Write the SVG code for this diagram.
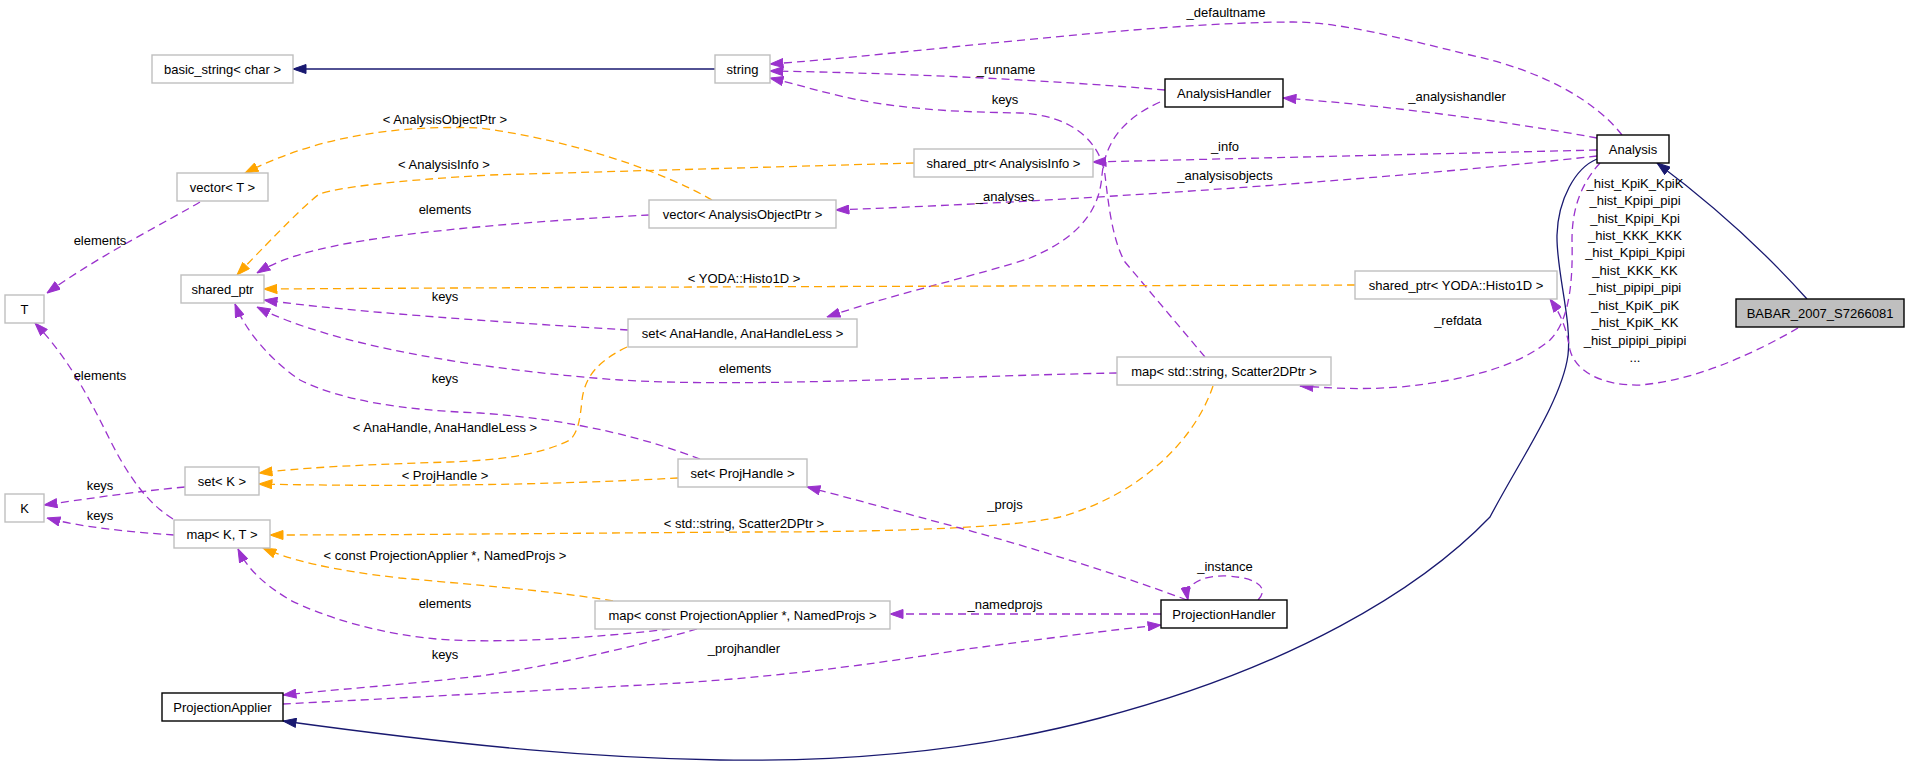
<svg xmlns="http://www.w3.org/2000/svg" width="1909" height="767" viewBox="0 0 1909 767">
<style>
text{font-family:"Liberation Sans",Arial,Helvetica,sans-serif;font-size:13px;fill:#000;text-anchor:middle}
.g rect{fill:#fff;stroke:#bfbfbf;stroke-width:1.4}
.b rect{fill:#fff;stroke:#000;stroke-width:1.4}
.c path{fill:none;stroke-width:1.3}
.p{stroke:#9a32cd;stroke-dasharray:8,5;marker-end:url(#mp)}
.o{stroke:#ffa500;stroke-dasharray:8,5;marker-end:url(#mo)}
.n{stroke:#191970;marker-end:url(#mn)}
</style>
<defs>
<marker id="mp" viewBox="0 0 14 10" refX="13.5" refY="5" markerWidth="14" markerHeight="10" markerUnits="userSpaceOnUse" orient="auto"><path d="M0.5,0.5 L13.5,5 L0.5,9.5 z" fill="#9a32cd" stroke="#9a32cd"/></marker>
<marker id="mo" viewBox="0 0 14 10" refX="13.5" refY="5" markerWidth="14" markerHeight="10" markerUnits="userSpaceOnUse" orient="auto"><path d="M0.5,0.5 L13.5,5 L0.5,9.5 z" fill="#ffa500" stroke="#ffa500"/></marker>
<marker id="mn" viewBox="0 0 14 10" refX="13.5" refY="5" markerWidth="14" markerHeight="10" markerUnits="userSpaceOnUse" orient="auto"><path d="M0.5,0.5 L13.5,5 L0.5,9.5 z" fill="#191970" stroke="#191970"/></marker>
</defs>
<rect x="0" y="0" width="1909" height="767" fill="#fff"/>
<g id="connectors" class="c">
<path class="n" d="M715,69 L293,69"/>
<path class="p" d="M1622,135 C1595,100 1540,70 1470,55 C1400,38 1340,22 1293,22 C1150,22 900,55 770,64"/>
<path class="p" d="M1165,90 C1050,80 900,73 770,71"/>
<path class="p" d="M1205,357 L1125,262 C1112,240 1108,200 1105,175 C1100,140 1070,115 1020,113 C980,112 930,112 870,102 C830,95 800,85 770,78"/>
<path class="p" d="M1597,138 C1500,120 1380,105 1283,98"/>
<path class="p" d="M1597,150 L1093,162"/>
<path class="p" d="M1597,156 C1400,178 1100,200 836,210"/>
<path class="o" d="M914,163 L490,175 C400,180 330,188 318,195 C305,205 280,230 237,275"/>
<path class="o" d="M712,200 C660,170 570,140 480,128 C400,125 320,135 245,173"/>
<path class="p" d="M649,215 C550,220 420,230 350,243 C300,252 275,262 257,273"/>
<path class="p" d="M200,202 C170,220 100,255 47,293"/>
<path class="p" d="M1160,102 C1120,120 1105,145 1102,175 C1100,205 1085,235 1030,258 C980,275 900,292 827,317"/>
<path class="o" d="M1355,285 C1000,286 600,287 264,289"/>
<path class="p" d="M628,330 C500,322 350,312 264,300"/>
<path class="p" d="M1117,373 C950,376 750,388 620,380 C480,370 330,345 257,307"/>
<path class="p" d="M700,459 C650,440 580,420 480,413 C400,410 340,400 300,380 C270,360 245,330 235,304"/>
<path class="o" d="M627,347 C600,360 585,375 582,400 C580,420 578,432 570,440 C540,455 500,460 450,462 C350,465 300,468 259,473"/>
<path class="o" d="M678,478 C550,485 400,487 259,484"/>
<path class="p" d="M185,487 C130,492 80,500 44,505"/>
<path class="p" d="M174,535 C130,532 80,527 47,518"/>
<path class="p" d="M173,519 C150,505 130,480 110,440 C90,400 70,360 35,323"/>
<path class="o" d="M1213,386 C1195,440 1140,495 1060,517 C1000,530 850,532 747,532 C600,533 400,535 270,535"/>
<path class="o" d="M613,601 C560,592 500,587 400,578 C330,570 290,560 263,548"/>
<path class="p" d="M670,629 C600,637 520,643 450,640 C380,636 320,615 290,600 C265,585 248,570 238,549"/>
<path class="p" d="M697,629 C660,640 560,665 480,676 C400,685 330,690 283,695"/>
<path class="p" d="M1161,614 L890,614"/>
<path class="p" d="M1187,600 C1120,575 1040,550 960,528 C900,512 850,498 807,487"/>
<path class="p" d="M1258,600 C1268,590 1262,578 1227,576 C1200,575 1185,585 1188,600"/>
<path class="p" d="M283,704 C400,698 550,690 680,683 C800,675 900,660 960,650 C1050,638 1110,630 1161,625"/>
<path class="n" d="M1597,159 C1575,168 1558,200 1557,235 C1556,270 1572,320 1568,355 C1562,400 1520,460 1490,517 C1420,590 1290,668 1100,718 C980,750 850,762 720,760 C600,758 480,748 283,721"/>
<path class="n" d="M1807,299 C1790,280 1740,225 1657,163"/>
<path class="p" d="M1798,328 C1760,350 1700,380 1640,385 C1600,386 1575,370 1570,350 C1567,335 1565,320 1550,299"/>
<path class="p" d="M1600,163 C1580,185 1572,210 1572,240 C1573,280 1570,320 1550,340 C1520,365 1470,380 1400,387 C1360,390 1330,388 1300,386"/>
</g>
<g id="labels">
<text x="1226" y="17">_defaultname</text>
<text x="1006" y="74">_runname</text>
<text x="1005" y="104">keys</text>
<text x="1457" y="101">_analysishandler</text>
<text x="1225" y="151">_info</text>
<text x="1225" y="180">_analysisobjects</text>
<text x="1005" y="201">_analyses</text>
<text x="445" y="124">&lt; AnalysisObjectPtr &gt;</text>
<text x="444" y="169">&lt; AnalysisInfo &gt;</text>
<text x="445" y="214">elements</text>
<text x="100" y="245">elements</text>
<text x="744" y="283">&lt; YODA::Histo1D &gt;</text>
<text x="445" y="301">keys</text>
<text x="745" y="373">elements</text>
<text x="445" y="383">keys</text>
<text x="100" y="380">elements</text>
<text x="445" y="432">&lt; AnaHandle, AnaHandleLess &gt;</text>
<text x="445" y="480">&lt; ProjHandle &gt;</text>
<text x="100" y="490">keys</text>
<text x="100" y="520">keys</text>
<text x="744" y="528">&lt; std::string, Scatter2DPtr &gt;</text>
<text x="445" y="560">&lt; const ProjectionApplier *, NamedProjs &gt;</text>
<text x="445" y="608">elements</text>
<text x="445" y="659">keys</text>
<text x="1005" y="509">_projs</text>
<text x="1225" y="571">_instance</text>
<text x="1005" y="609">_namedprojs</text>
<text x="744" y="653">_projhandler</text>
<text x="1458" y="325">_refdata</text>
<text x="1635" y="188">_hist_KpiK_KpiK</text>
<text x="1635" y="205">_hist_Kpipi_pipi</text>
<text x="1635" y="223">_hist_Kpipi_Kpi</text>
<text x="1635" y="240">_hist_KKK_KKK</text>
<text x="1635" y="257">_hist_Kpipi_Kpipi</text>
<text x="1635" y="275">_hist_KKK_KK</text>
<text x="1635" y="292">_hist_pipipi_pipi</text>
<text x="1635" y="310">_hist_KpiK_piK</text>
<text x="1635" y="327">_hist_KpiK_KK</text>
<text x="1635" y="345">_hist_pipipi_pipipi</text>
<text x="1635" y="362">...</text>
</g>
<g id="basic_string" class="g"><rect x="152" y="55" width="141" height="28"/><text x="222.5" y="73.5">basic_string&lt; char &gt;</text></g>
<g id="string" class="g"><rect x="715" y="55" width="55" height="28"/><text x="742.5" y="73.5">string</text></g>
<g id="vector_T" class="g"><rect x="177" y="173" width="91" height="28"/><text x="222.5" y="191.5">vector&lt; T &gt;</text></g>
<g id="shared_ptr" class="g"><rect x="181" y="275" width="83" height="28"/><text x="222.5" y="293.5">shared_ptr</text></g>
<g id="T" class="g"><rect x="5" y="295" width="39" height="28"/><text x="24.5" y="313.5">T</text></g>
<g id="K" class="g"><rect x="5" y="494" width="39" height="28"/><text x="24.5" y="512.5">K</text></g>
<g id="set_K" class="g"><rect x="185" y="467" width="74" height="28"/><text x="222" y="485.5">set&lt; K &gt;</text></g>
<g id="map_K_T" class="g"><rect x="174" y="520" width="96" height="28"/><text x="222" y="538.5">map&lt; K, T &gt;</text></g>
<g id="ProjectionApplier" class="b"><rect x="162" y="693" width="121" height="28"/><text x="222.5" y="711.5">ProjectionApplier</text></g>
<g id="vector_AnalysisObjectPtr" class="g"><rect x="649" y="200" width="187" height="28"/><text x="742.5" y="218.5">vector&lt; AnalysisObjectPtr &gt;</text></g>
<g id="shared_ptr_AnalysisInfo" class="g"><rect x="914" y="149" width="179" height="28"/><text x="1003.5" y="167.5">shared_ptr&lt; AnalysisInfo &gt;</text></g>
<g id="set_AnaHandle" class="g"><rect x="628" y="319" width="229" height="28"/><text x="742.5" y="337.5">set&lt; AnaHandle, AnaHandleLess &gt;</text></g>
<g id="set_ProjHandle" class="g"><rect x="678" y="459" width="129" height="28"/><text x="742.5" y="477.5">set&lt; ProjHandle &gt;</text></g>
<g id="map_const_ProjectionApplier" class="g"><rect x="595" y="601" width="295" height="28"/><text x="742.5" y="619.5">map&lt; const ProjectionApplier *, NamedProjs &gt;</text></g>
<g id="map_string_Scatter2DPtr" class="g"><rect x="1117" y="357" width="214" height="28"/><text x="1224" y="375.5">map&lt; std::string, Scatter2DPtr &gt;</text></g>
<g id="shared_ptr_Histo1D" class="g"><rect x="1355" y="271" width="202" height="28"/><text x="1456" y="289.5">shared_ptr&lt; YODA::Histo1D &gt;</text></g>
<g id="AnalysisHandler" class="b"><rect x="1165" y="79" width="118" height="28"/><text x="1224" y="97.5">AnalysisHandler</text></g>
<g id="ProjectionHandler" class="b"><rect x="1161" y="600" width="126" height="28"/><text x="1224" y="618.5">ProjectionHandler</text></g>
<g id="Analysis" class="b"><rect x="1597" y="135" width="72" height="28"/><text x="1633" y="153.5">Analysis</text></g>
<g id="BABAR_2007_S7266081"><rect x="1736" y="299" width="168" height="28" fill="#bfbfbf" stroke="#000" stroke-width="1.4"/><text x="1820" y="317.5">BABAR_2007_S7266081</text></g>
</svg>
